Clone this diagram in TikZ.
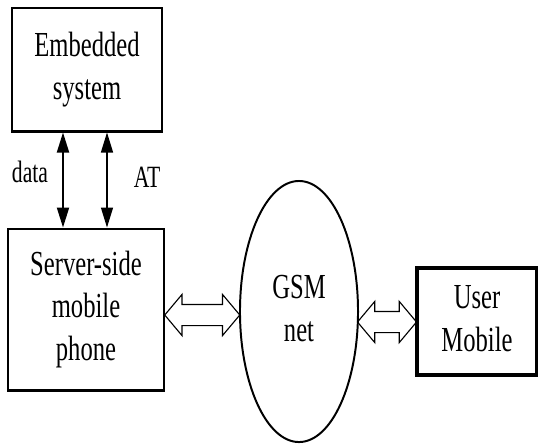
\documentclass[tikz,border=0pt]{standalone}
\usepackage{fontspec}
\setmainfont{Liberation Serif}
\usepackage{graphicx}
\usetikzlibrary{shapes.geometric,shapes.arrows,arrows.meta}
\newcommand\Narrow[1]{\scalebox{0.7}[1]{\begin{tabular}{@{}c@{}}#1\end{tabular}}}

\begin{document}
\begin{tikzpicture}[x=0.025cm,y=-0.025cm,
    block/.style={draw,line width=2.1pt,inner sep=0pt,font=\fontsize{25}{30}\selectfont},
    link/.style={double arrow,draw,line width=0.8pt,inner xsep=0pt,inner ysep=0.25cm,
        minimum width=0pt,double arrow head extend=0.25cm,double arrow tip angle=100},
    tip/.style={{Triangle[length=0.5cm,width=0.3cm]}-{Triangle[length=0.5cm,width=0.3cm]}},
    lbl/.style={anchor=base,font=\fontsize{22}{25}\selectfont}]
    \useasboundingbox (0,0) rectangle (538,443);
    % boxes
    \node[block,minimum width=3.75cm,minimum height=3.075cm] (emb) at (87,69.5) {\Narrow{Embedded\\system}};
    \node[block,minimum width=3.9cm,minimum height=4.025cm] (srv) at (86,309.5) {\Narrow{Server-side\\mobile\\phone}};
    \node[block,line width=2.8pt,minimum width=3cm,minimum height=2.675cm] (usr) at (477,321.5) {\raisebox{-0.15cm}{\Narrow{User\\Mobile}}};
    \node[block,ellipse,line width=1.4pt,minimum width=2.95cm,minimum height=6.525cm] (gsm) at (299,311.5) {\raisebox{-0.1cm}{\Narrow{GSM\\net}}};
    % data / AT
    \draw[tip,line width=1.4pt] (emb.south -| 63,0) -- (srv.north -| 63,0);
    \draw[tip,line width=1pt] (emb.south -| 107,0) -- (srv.north -| 107,0);
    \node[lbl] (data) at (30,182) {\scalebox{0.7}[1]{data}};
    \node[lbl] (at) at (147,187) {\scalebox{0.7}[1]{AT}};
    % links
    \path (srv.east |- 0,315) -- node[link,minimum height=1.875cm] (lnksrv) {} (gsm.west |- 0,315);
    \path (gsm.east |- 0,322) -- node[link,minimum height=1.475cm] (lnkusr) {} (usr.west |- 0,322);
\end{tikzpicture}
\end{document}
